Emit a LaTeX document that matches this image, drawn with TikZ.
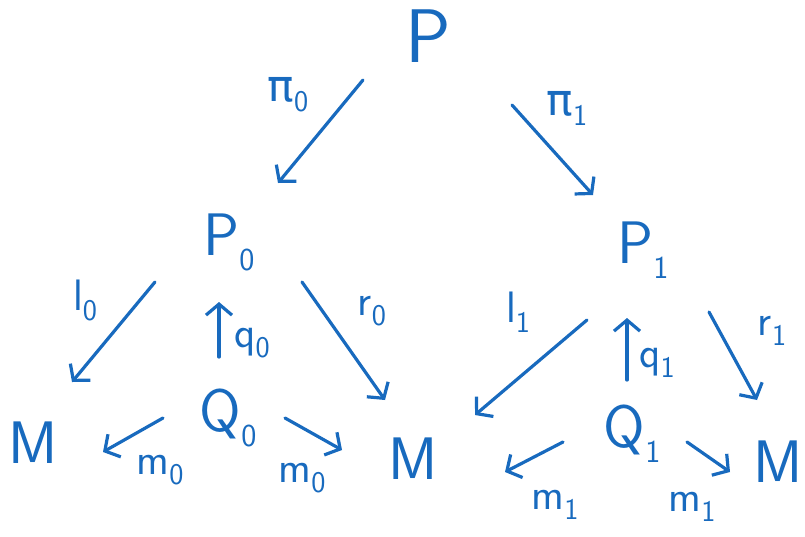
\documentclass[tikz,border=0pt]{standalone}
\usepackage{fontspec}
\newfontfamily\grk{DejaVu Sans}
\usetikzlibrary{arrows.meta}
\definecolor{handblue}{RGB}{24,106,190}
\newcommand\osub[1]{\raisebox{-15pt}{\fontsize{32}{32}\selectfont #1}}
\newcommand\lsub[1]{\raisebox{-10pt}{\fontsize{30}{30}\selectfont #1}}
\begin{document}
\begin{tikzpicture}[x=1pt,y=-1pt,
  obj/.style={text=handblue,inner sep=0pt,font=\sffamily\fontsize{60}{60}\selectfont},
  bigobj/.style={obj,font=\sffamily\fontsize{76}{76}\selectfont},
  lbl/.style={text=handblue,inner sep=0pt,font=\sffamily\fontsize{44}{44}\selectfont},
  arr/.style={draw=handblue,line width=3.2pt,line cap=round,line join=round,
    -{Straight Barb[length=11pt,width=26pt,line width=3.2pt]}}]
\useasboundingbox (0,0) rectangle (805,536);
% objects
\node[bigobj] (P)  at (428,36)  {P};
\node[obj] (P0) at (229,242) {P\osub{0}};
\node[obj] (P1) at (643,250) {P\osub{1}};
\node[obj] (Q0) at (228,418) {Q\osub{0}};
\node[obj] (Q1) at (632,434) {Q\osub{1}};
\node[obj] (ML) at (33,443)  {M};
\node[obj] (MM) at (413,459) {M};
\node[obj] (MR) at (778,462) {M};
% connectors
\draw[arr] ([shift={(-65,44)}]P.center)  -- ([shift={(49,-59)}]P0.center);
\draw[arr] ([shift={(84,69)}]P.center)   -- ([shift={(-50,-55)}]P1.center);
\draw[arr] ([shift={(-74,40)}]P0.center) -- ([shift={(39,-61)}]ML.center);
\draw[arr] ([shift={(-9,-61)}]Q0.center) -- ([shift={(-10,60)}]P0.center);
\draw[arr] ([shift={(73,40)}]P0.center)  -- ([shift={(-28,-59)}]MM.center);
\draw[arr] ([shift={(-56,70)}]P1.center) -- ([shift={(62,-44)}]MM.center);
\draw[arr] ([shift={(-5,-54)}]Q1.center) -- ([shift={(-16,68)}]P1.center);
\draw[arr] ([shift={(66,62)}]P1.center)  -- ([shift={(-21,-62)}]MR.center);
\draw[arr] ([shift={(-65,0)}]Q0.center)  -- ([shift={(70,9)}]ML.center);
\draw[arr] ([shift={(57,0)}]Q0.center)   -- ([shift={(-71,-9)}]MM.center);
\draw[arr] ([shift={(-69,8)}]Q1.center)  -- ([shift={(92,13)}]MM.center);
\draw[arr] ([shift={(55,8)}]Q1.center)   -- ([shift={(-48,10)}]MR.center);
% labels
\node[lbl] (lpi0) at (288,95)  {{\grk π}\lsub{0}};
\node[lbl] (lpi1) at (567,108) {{\grk π}\lsub{1}};
\node[lbl] (ll0)  at (85,300)  {l\lsub{0}};
\node[lbl] (lq0)  at (252,343) {q\lsub{0}};
\node[lbl] (lr0)  at (372,311) {r\lsub{0}};
\node[lbl] (ll1)  at (518,312) {l\lsub{1}};
\node[lbl] (lq1)  at (657,363) {q\lsub{1}};
\node[lbl] (lr1)  at (772,331) {r\lsub{1}};
\node[lbl] (lm0a) at (160,470) {m\lsub{0}};
\node[lbl] (lm0b) at (302,478) {m\lsub{0}};
\node[lbl] (lm1a) at (555,505) {m\lsub{1}};
\node[lbl] (lm1b) at (692,507) {m\lsub{1}};
\end{tikzpicture}
\end{document}
